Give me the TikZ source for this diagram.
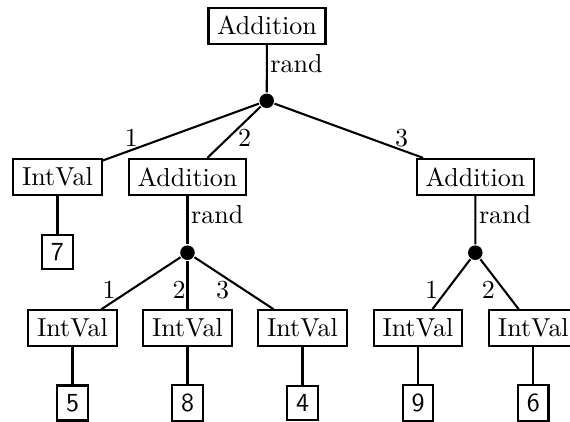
\documentclass[tikz,border=0pt]{standalone}
\begin{document}
\begin{tikzpicture}[x=0.3846pt,y=-0.3846pt, line width=0.8pt,
  box/.style={draw, inner sep=3.33pt},
  num/.style={draw, inner sep=3.33pt, font=\sffamily},
  dot/.style={circle, fill, inner sep=0pt, minimum size=5.6pt},
  randlab/.style={anchor=west, inner sep=1pt, pos=0.39},
  elab/.style={anchor=base, inner sep=0pt}]
\useasboundingbox (0,0) rectangle (570,421);
% nodes
\node[box] (A0) at (267,25.7) {Addition};
\node[dot] (D0) at (266.7,100.8) {};
\node[box] (I1) at (57.5,177) {IntVal};
\node[box] (A1) at (187.5,177) {Addition};
\node[box] (A2) at (475.5,177) {Addition};
\node[num] (N7) at (57.5,252) {7};
\node[dot] (D1) at (187.5,252.7) {};
\node[dot] (D2) at (475.3,252.7) {};
\node[box] (I2) at (72.5,328.2) {IntVal};
\node[box] (I3) at (187.5,328.2) {IntVal};
\node[box] (I4) at (302.5,328.2) {IntVal};
\node[box] (I5) at (418,328.2) {IntVal};
\node[box] (I6) at (533.3,328.2) {IntVal};
\node[num] (N5) at (72.5,403) {5};
\node[num] (N8) at (187.5,403) {8};
\node[num] (N4) at (302.5,403) {4};
\node[num] (N9) at (418,403) {9};
\node[num] (N6) at (533.3,403) {6};
% connectors
\draw (A0) -- node[randlab]{rand} (D0);
\draw (D0) -- (I1);
\draw (D0) -- (A1);
\draw (D0) -- (A2);
\draw (I1) -- (N7);
\draw (A1) -- node[randlab]{rand} (D1);
\draw (A2) -- node[randlab]{rand} (D2);
\draw (D1) -- (I2);
\draw (D1) -- (I3);
\draw (D1) -- (I4);
\draw (D2) -- (I5);
\draw (D2) -- (I6);
\draw (I2) -- (N5);
\draw (I3) -- (N8);
\draw (I4) -- (N4);
\draw (I5) -- (N9);
\draw (I6) -- (N6);
% edge labels
\node[elab] (l01) at (131.3,146.7) {1};
\node[elab] (l02) at (244.7,146.7) {2};
\node[elab] (l03) at (401.5,146.7) {3};
\node[elab] (l11) at (109,298.3) {1};
\node[elab] (l12) at (179,298.3) {2};
\node[elab] (l13) at (222.5,298.3) {3};
\node[elab] (l21) at (431.7,298.3) {1};
\node[elab] (l22) at (488.3,298.3) {2};
\end{tikzpicture}
\end{document}
